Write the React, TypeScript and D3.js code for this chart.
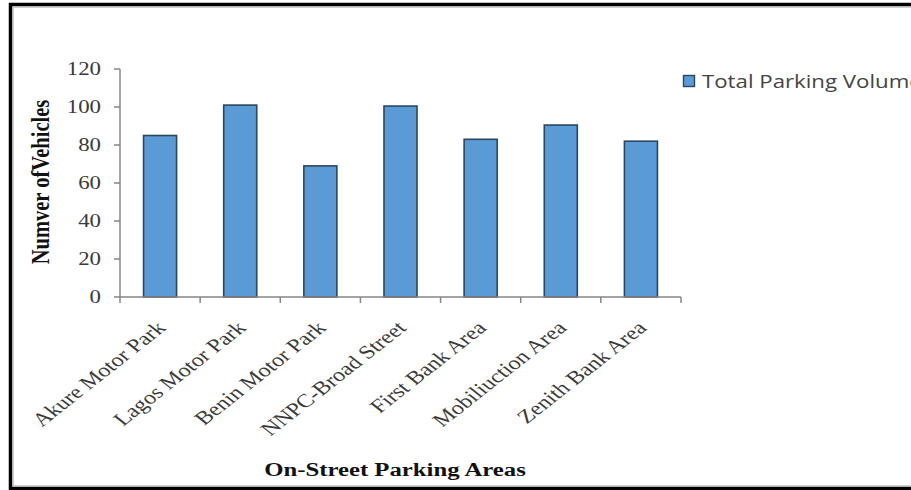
import React from "react";
import * as d3 from "d3";

const categories = [
  "Akure Motor Park",
  "Lagos Motor Park",
  "Benin Motor Park",
  "NNPC-Broad Street",
  "First Bank Area",
  "Mobiliuction Area",
  "Zenith Bank Area",
];
const totalParkingVolume = [85, 101, 69, 100.5, 83, 90.5, 82];
const yTicks = [0, 20, 40, 60, 80, 100, 120];
const seriesName = "Total Parking Volume";
const yTitle = "Numver ofVehicles";
const xTitle = "On-Street Parking Areas";

const W = 911;
const H = 490;
const K = 1.27; // horizontal stretch of the source image
const SERIF = "'Liberation Serif', 'Times New Roman', serif";

export default function App() {
  const x = d3
    .scaleBand<string>()
    .domain(categories)
    .range([120, 681])
    .paddingInner(0.588)
    .paddingOuter(0.294);
  const y = d3.scaleLinear().domain([0, 120]).range([297, 69]);
  const step = x.step();
  const gap = (step - x.bandwidth()) / 2;
  const boundaries = categories.map((c) => (x(c) as number) - gap);
  boundaries.push(x.range()[1]);
  const axisColor = "#868686";

  return (
    <svg
      width={W}
      height={H}
      style={{ position: "fixed", left: 0, top: 0, display: "block", background: "#fff" }}
    >
      {/* frame */}
      <rect x={10.5} y={4.5} width={1000} height={484} fill="none" stroke="#000" strokeWidth={3.5} />
      <rect x={13} y={7} width={1000} height={479} fill="none" stroke="#b0b0b0" strokeWidth={1.2} />

      {/* bars */}
      {categories.map((c, i) => (
        <rect
          key={c}
          x={x(c)}
          y={y(totalParkingVolume[i])}
          width={x.bandwidth()}
          height={y(0) - y(totalParkingVolume[i])}
          fill="#5B9BD5"
          stroke="#2b4660"
          strokeWidth={1.6}
        />
      ))}

      {/* y axis */}
      <line x1={120} x2={120} y1={y(120)} y2={y(0)} stroke={axisColor} strokeWidth={1.5} />
      {yTicks.map((t) => (
        <g key={t}>
          <line x1={114} x2={120} y1={y(t)} y2={y(t)} stroke={axisColor} strokeWidth={1.5} />
          <text
            transform={`translate(101,${y(t)}) scale(${K},1)`}
            textAnchor="end"
            dy="0.35em"
            fontFamily={SERIF}
            fontSize={18}
            fill="#3a3a3a"
          >
            {t}
          </text>
        </g>
      ))}

      {/* x axis */}
      <line x1={120} x2={x.range()[1]} y1={y(0)} y2={y(0)} stroke={axisColor} strokeWidth={1.5} />
      {boundaries.map((b, i) => (
        <line key={i} x1={b} x2={b} y1={y(0)} y2={y(0) + 6} stroke={axisColor} strokeWidth={1.5} />
      ))}
      {categories.map((c) => {
        const cx = (x(c) as number) + x.bandwidth() / 2;
        return (
          <text
            key={c}
            transform={`translate(${cx + 7},${y(0) + 32}) scale(${K},1) rotate(-45)`}
            textAnchor="end"
            fontFamily={SERIF}
            fontSize={19}
            fill="#3a3a3a"
          >
            {c}
          </text>
        );
      })}

      {/* axis titles */}
      <text
        transform={`translate(49,182) scale(${K},1) rotate(-90)`}
        textAnchor="middle"
        fontFamily={SERIF}
        fontWeight="bold"
        fontSize={20.5}
        fill="#111"
      >
        {yTitle}
      </text>
      <text
        transform={`translate(395,476) scale(${K},1)`}
        textAnchor="middle"
        fontFamily={SERIF}
        fontWeight="bold"
        fontSize={19.5}
        fill="#111"
      >
        {xTitle}
      </text>

      {/* legend */}
      <rect x={683.5} y={75.5} width={11} height={11} fill="#5B9BD5" stroke="#2b4660" strokeWidth={1.4} />
      <text
        transform={`translate(702,88) scale(${K},1)`}
        fontFamily="'Open Sans', sans-serif"
        fontSize={17.5}
        fill="#444"
      >
        {seriesName}
      </text>
    </svg>
  );
}
